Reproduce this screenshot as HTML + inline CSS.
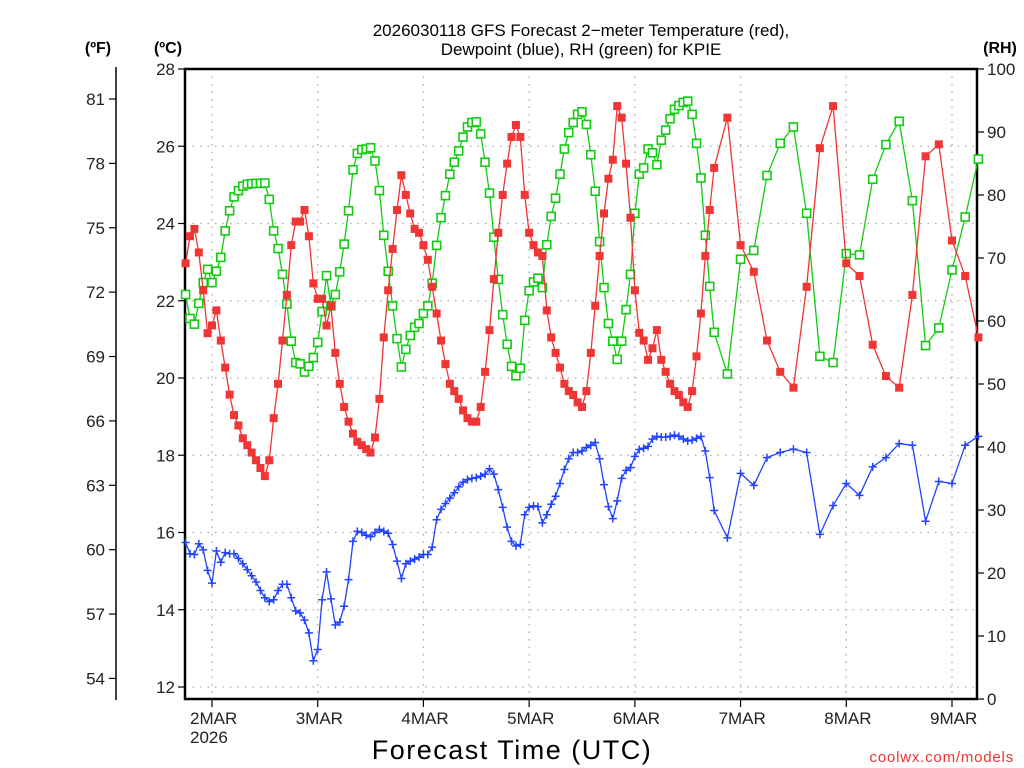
<!DOCTYPE html>
<html><head><meta charset="utf-8"><style>
html,body{margin:0;padding:0;background:#fff;}
svg{display:block;font-family:"Liberation Sans","DejaVu Sans",sans-serif;}
</style></head><body>
<svg id="chart" width="1024" height="768" viewBox="0 0 1024 768">
<text x="581" y="36" font-size="17" text-anchor="middle" fill="#000">2026030118 GFS Forecast 2−meter Temperature (red),</text>
<text x="581" y="55" font-size="17" text-anchor="middle" fill="#000">Dewpoint (blue), RH (green) for KPIE</text>
<text x="98" y="53" font-size="16" font-weight="bold" text-anchor="middle">(ºF)</text>
<text x="168" y="53" font-size="16" font-weight="bold" text-anchor="middle">(ºC)</text>
<text x="1000" y="53" font-size="16" font-weight="bold" text-anchor="middle">(RH)</text>
<text x="512" y="759" font-size="27" text-anchor="middle" letter-spacing="1.5">Forecast Time (UTC)</text>
<text x="1014" y="762" font-size="15" text-anchor="end" fill="#e33" letter-spacing="0.8">coolwx.com/models</text>
<g id="grid"></g>
<g id="axes"></g>
<g id="series"></g>
</svg>
<script>
// Hours relative to 2 Mar 00Z
const hourlyStart = -6, hourlyEnd = 114, threeStart = 117, threeEnd = 174;
const tempHourly = [22.97,23.67,23.86,23.25,22.27,21.16,21.36,21.75,20.97,20.27,19.57,19.04,18.77,18.44,18.26,18.07,17.87,17.67,17.46,17.87,18.96,19.85,20.97,22.15,23.44,24.05,24.05,24.35,23.67,22.45,22.05,22.05,21.36,21.87,20.65,19.85,19.25,18.87,18.56,18.35,18.26,18.16,18.07,18.46,19.46,21.05,22.27,
23.34,24.35,25.25,24.74,24.26,23.86,23.76,23.44,23.06,22.36,21.67,20.97,20.36,19.85,19.66,19.46,19.16,18.96,18.87,18.87,19.25,20.16,21.24,22.56,23.76,24.74,25.55,26.24,26.55,26.24,24.74,23.76,23.44,23.25,23.16,21.75,21.05,20.65,20.27,19.85,19.66,19.56,19.37,19.25,19.66,20.65,21.87,
23.16,24.26,25.16,25.65,27.04,26.74,25.55,24.15,22.27,21.17,20.97,20.47,20.77,21.24,20.47,20.16,19.85,19.66,19.56,19.37,19.25,19.66,20.56,21.67,23.16,24.35,25.44];
const temp3h = [26.74,23.44,22.75,20.97,20.16,19.75,22.36,25.95,27.04,22.97,22.64,20.86,20.05,19.75,22.15,25.74,26.05,23.56,22.64,21.05];
const rhHourly = [64.2,60.4,59.5,62.8,66.1,68.2,66.1,67.9,70.1,74.3,77.5,79.7,80.7,81.4,81.7,81.8,81.85,81.85,81.9,79.3,74.3,71.5,67.4,62.7,56.8,53.4,53.2,51.9,52.8,54.2,56.6,61.5,67.2,62.4,64.2,67.8,72.2,77.5,84.0,86.6,87.2,87.3,87.5,85.4,80.7,73.6,67.9,
62.4,57.2,52.7,55.5,57.7,59.0,59.6,61.2,62.4,66.0,72.0,76.4,79.9,83.3,85.2,87.0,89.2,90.8,91.5,91.6,89.7,85.2,80.3,73.3,66.6,61.0,56.3,52.8,51.3,52.5,60.1,64.8,66.2,66.8,65.3,72.1,76.6,79.5,83.3,87.3,89.9,91.5,92.8,93.2,91.2,86.4,80.6,
72.6,65.3,59.6,56.8,53.9,56.8,61.8,67.4,77.1,83.3,84.3,87.3,86.7,84.8,88.7,90.3,92.1,93.6,94.2,94.7,94.9,92.8,88.2,82.7,73.6,65.5,58.2];
const rh3h = [51.6,69.8,71.2,83.1,88.2,90.8,77.1,54.4,53.4,70.7,70.5,82.5,88.0,91.7,79.1,56.1,58.9,68.1,76.5,85.7];
const dewHourly = [15.74,15.45,15.43,15.71,15.55,15.02,14.69,15.52,15.23,15.48,15.45,15.45,15.33,15.19,15.04,14.88,14.72,14.50,14.31,14.21,14.26,14.50,14.66,14.66,14.31,13.97,13.92,13.73,13.40,12.68,12.97,14.26,14.98,14.28,13.61,13.68,14.09,14.78,15.77,16.03,16.00,15.93,15.89,16.00,16.08,16.03,15.98,
15.69,15.26,14.81,15.19,15.26,15.31,15.36,15.43,15.43,15.62,16.33,16.60,16.75,16.89,17.03,17.18,17.30,17.37,17.40,17.42,17.46,17.51,17.65,17.51,17.11,16.65,16.14,15.77,15.65,15.69,16.46,16.65,16.69,16.67,16.25,16.46,16.73,16.94,17.27,17.63,17.91,18.07,18.07,18.11,18.20,18.26,18.33,
17.91,17.24,16.67,16.36,16.82,17.40,17.61,17.68,17.97,18.15,18.18,18.23,18.42,18.49,18.47,18.47,18.49,18.52,18.49,18.42,18.37,18.39,18.44,18.49,18.11,17.42,16.57];
const dew3h = [15.86,17.53,17.22,17.94,18.07,18.16,18.07,15.95,16.70,17.27,16.96,17.70,17.94,18.30,18.26,16.29,17.32,17.27,18.26,18.49];
const celsiusTicks = [12,14,16,18,20,22,24,26,28];
const fahrenheitTicks = [54,57,60,63,66,69,72,75,78,81];
const rhTicks = [0,10,20,30,40,50,60,70,80,90,100];
const dateTicks = [0,24,48,72,96,120,144,168];
const dateLabels = ["2MAR","3MAR","4MAR","5MAR","6MAR","7MAR","8MAR","9MAR"];

const NS = "http://www.w3.org/2000/svg";
const L = 185, R = 977, T = 69, B = 699;
function xH(h){ return 212 + h * (740/168); }
function yC(c){ return 687 - (c - 12) * (618/16); }
function yRH(r){ return B - r * (B - T) / 100; }
function yF(f){ return yC((f - 32) * 5 / 9); }
function mk(tag, attrs, parent){ const e = document.createElementNS(NS, tag); for (const k in attrs) e.setAttribute(k, attrs[k]); parent.appendChild(e); return e; }

const times = [];
for (let h = hourlyStart; h <= hourlyEnd; h++) times.push(h);
for (let h = threeStart; h <= threeEnd; h += 3) times.push(h);

const grid = document.getElementById('grid'), axes = document.getElementById('axes'), series = document.getElementById('series');
// gridlines
celsiusTicks.forEach(c => {
  if (c === 28) return;
  const g = mk('line', {x1:L, x2:R, y1:yC(c), y2:yC(c), stroke:'#aaa', 'stroke-width':1.3, 'stroke-dasharray':'1.5 6'}, grid);
  
  
});
dateTicks.forEach((h, i) => {
  const g = mk('line', {x1:xH(h), x2:xH(h), y1:T, y2:B, stroke:'#aaa', 'stroke-width':1.3, 'stroke-dasharray':'1.5 6'}, grid);
  
  
});
// frame
const fr = mk('rect', {x:L, y:T, width:R-L, height:B-T, fill:'none', stroke:'#000', 'stroke-width':2.5}, axes);


// celsius ticks
celsiusTicks.forEach(c => {
  mk('line', {x1:L-7, x2:L, y1:yC(c), y2:yC(c), stroke:'#000', 'stroke-width':1.2}, axes);
  const t = mk('text', {x:L-10, y:yC(c)+6, 'font-size':17, 'text-anchor':'end', fill:'#222'}, axes);
  t.textContent = c;
  
  
});
// fahrenheit axis
const fa = mk('line', {x1:116, x2:116, y1:67, y2:700, stroke:'#000', 'stroke-width':1.5}, axes);


fahrenheitTicks.forEach(f => {
  mk('line', {x1:109, x2:116, y1:yF(f), y2:yF(f), stroke:'#000', 'stroke-width':1.2}, axes);
  const t = mk('text', {x:105, y:yF(f)+6, 'font-size':17, 'text-anchor':'end', fill:'#222'}, axes);
  t.textContent = f;
  
  
});
// rh ticks
rhTicks.forEach(r => {
  mk('line', {x1:R, x2:R+7, y1:yRH(r), y2:yRH(r), stroke:'#000', 'stroke-width':1.2}, axes);
  const t = mk('text', {x:R+10, y:yRH(r)+6, 'font-size':17, fill:'#222'}, axes);
  t.textContent = r;
  
  
});
// date ticks
dateTicks.forEach((h, i) => {
  mk('line', {x1:xH(h), x2:xH(h), y1:B, y2:B+8, stroke:'#000', 'stroke-width':1.2}, axes);
  const t = mk('text', {x:xH(h)-22, y:724, 'font-size':17, fill:'#222'}, axes);
  t.textContent = dateLabels[i];
  
  
});
const yr = mk('text', {x:xH(0)-22, y:743, 'font-size':17, fill:'#222'}, axes);
yr.textContent = '2026';



function drawSeries(vals, yf, color, name, marker){
  const g = mk('g', {}, series);
  
  
  const pts = vals.map((v, i) => xH(times[i]).toFixed(1) + ',' + yf(v).toFixed(1)).join(' ');
  const pl = mk('polyline', {points:pts, fill:'none', stroke:color, 'stroke-width':1.3}, g);
  
  
  vals.forEach((v, i) => {
    const x = xH(times[i]), y = yf(v);
    let m;
    if (marker === 'fill') m = mk('rect', {x:x-4, y:y-4, width:8, height:8, fill:color}, g);
    else if (marker === 'open') m = mk('rect', {x:x-4, y:y-4, width:8, height:8, fill:'#fff', stroke:color, 'stroke-width':1.6}, g);
    else m = mk('path', {d:`M${x-4},${y}H${x+4}M${x},${y-4}V${y+4}`, stroke:color, 'stroke-width':1.5}, g);
    
    
  });
}
drawSeries(rhHourly.concat(rh3h), yRH, '#11cc11', 'rh', 'open');
drawSeries(tempHourly.concat(temp3h), yC, '#f03535', 'temperature', 'fill');
drawSeries(dewHourly.concat(dew3h), yC, '#2244ff', 'dewpoint', 'plus');
</script>
</body></html>
